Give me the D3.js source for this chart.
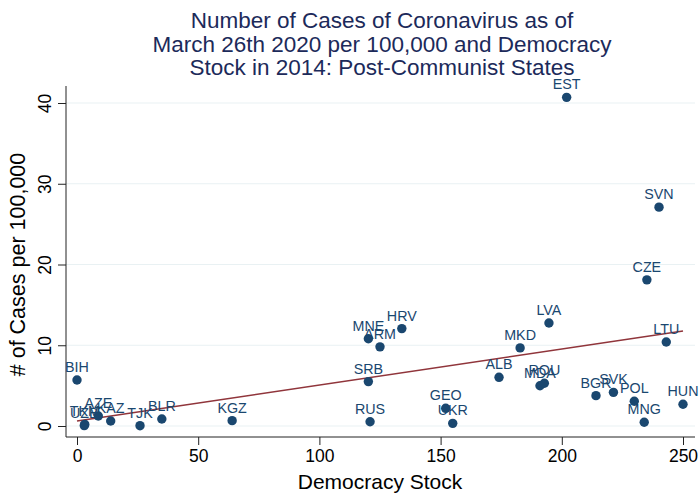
<!DOCTYPE html>
<html>
<head>
<meta charset="utf-8">
<script src="https://cdn.jsdelivr.net/npm/d3@7"></script>
<style>
  html, body { margin: 0; padding: 0; background: #fff; }
  svg { display: block; font-family: "Liberation Sans", Arial, Helvetica, sans-serif; }
</style>
</head>
<body>
<svg id="chart" width="700" height="495"></svg>
<script>
// ---- Data ----
const countries = ["BIH","UZB","TKM","AZE","KAZ","TJK","BLR","KGZ","MNE","ARM","HRV","SRB","RUS","GEO","UKR","ALB","MKD","LVA","MDA","ROU","EST","BGR","SVK","POL","MNG","CZE","SVN","LTU","HUN"];
const democracyStock = [0.0, 3.0, 3.2, 8.8, 13.9, 26.0, 35.0, 64.0, 120.2, 125.0, 134.0, 120.2, 120.9, 152.1, 155.0, 174.1, 182.8, 194.7, 191.0, 192.8, 202.0, 214.1, 221.3, 229.9, 234.0, 235.1, 240.1, 243.1, 250.0];
const casesPer100k = [5.7, 0.05, 0.2, 1.24, 0.62, 0.04, 0.87, 0.66, 10.8, 9.8, 12.06, 5.5, 0.53, 2.19, 0.33, 6.03, 9.67, 12.76, 4.99, 5.29, 40.7, 3.76, 4.17, 3.06, 0.46, 18.1, 27.1, 10.4, 2.69];
const fitX = [0, 250];
const fitY = [0.62, 11.77];
const xTicks = [0, 50, 100, 150, 200, 250];
const yTicks = [0, 10, 20, 30, 40];
const titleLines = ["Number of Cases of Coronavirus as of", "March 26th 2020 per 100,000 and Democracy", "Stock in 2014: Post-Communist States"];
const xTitle = "Democracy Stock";
const yTitle = "# of Cases per 100,000";

// ---- Layout ----
const svg = d3.select("#chart");
const plot = { left: 66, right: 695, top: 86, bottom: 437 };
const x = d3.scaleLinear().domain([0, 250]).range([77, 683]);
const y = d3.scaleLinear().domain([0, 40]).range([426, 103]);

const markColor = "#1a476f";
const fitColor = "#90353b";
const gridColor = "#e9f1f3";

// gridlines
svg.append("g").selectAll("line").data(yTicks).join("line")
  .attr("x1", plot.left).attr("x2", plot.right)
  .attr("y1", d => y(d)).attr("y2", d => y(d))
  .attr("stroke", gridColor).attr("stroke-width", 1.2);

// y axis
const yAxis = d3.axisLeft(y).tickValues(yTicks).tickSize(8).tickPadding(6).tickFormat(d3.format("d"));
const gy = svg.append("g").attr("transform", `translate(${plot.left},0)`).call(yAxis);
gy.select(".domain").attr("d", `M0,${plot.top}V${plot.bottom}`).attr("stroke", "#222");
gy.selectAll(".tick line").attr("stroke", "#222");
gy.selectAll(".tick text")
  .attr("font-size", 17.5).attr("fill", "#000")
  .attr("text-anchor", "middle")
  .attr("x", 0).attr("dy", null)
  .attr("transform", d => `translate(-21,0) rotate(-90)`)
  .attr("dominant-baseline", "central");

// x axis
const xAxis = d3.axisBottom(x).tickValues(xTicks).tickSize(8).tickPadding(5).tickFormat(d3.format("d"));
const gx = svg.append("g").attr("transform", `translate(0,${plot.bottom})`).call(xAxis);
gx.select(".domain").attr("d", `M${plot.left},0H${plot.right}`).attr("stroke", "#222");
gx.selectAll(".tick line").attr("stroke", "#222");
gx.selectAll(".tick text").attr("font-size", 17.5).attr("fill", "#000");

// fit line
const fitData = fitX.map((v, i) => [v, fitY[i]]);
svg.append("path")
  .datum(fitData)
  .attr("d", d3.line().x(d => x(d[0])).y(d => y(d[1])))
  .attr("fill", "none").attr("stroke", fitColor).attr("stroke-width", 1.5);

// points
const pts = countries.map((c, i) => ({ c, xv: democracyStock[i], yv: casesPer100k[i] }));
svg.append("g").selectAll("circle").data(pts).join("circle")
  .attr("cx", d => x(d.xv)).attr("cy", d => y(d.yv)).attr("r", 4.7)
  .attr("fill", markColor);

// labels
svg.append("g").selectAll("text").data(pts).join("text")
  .attr("x", d => x(d.xv)).attr("y", d => y(d.yv) - 8)
  .attr("text-anchor", "middle")
  .attr("font-size", 14.3).attr("fill", markColor)
  .text(d => d.c);

// title
svg.append("g").selectAll("text").data(titleLines).join("text")
  .attr("x", 382).attr("y", (d, i) => 28 + i * 23.5)
  .attr("text-anchor", "middle")
  .attr("font-size", 22.5).attr("fill", "#1c2a5a")
  .text(d => d);

// axis titles
svg.append("text")
  .attr("x", 380).attr("y", 489)
  .attr("text-anchor", "middle").attr("font-size", 21).attr("fill", "#000")
  .text(xTitle);
svg.append("text")
  .attr("transform", `translate(25,${(103 + 426) / 2}) rotate(-90)`)
  .attr("text-anchor", "middle").attr("font-size", 21.5).attr("fill", "#000")
  .text(yTitle);
</script>
</body>
</html>
